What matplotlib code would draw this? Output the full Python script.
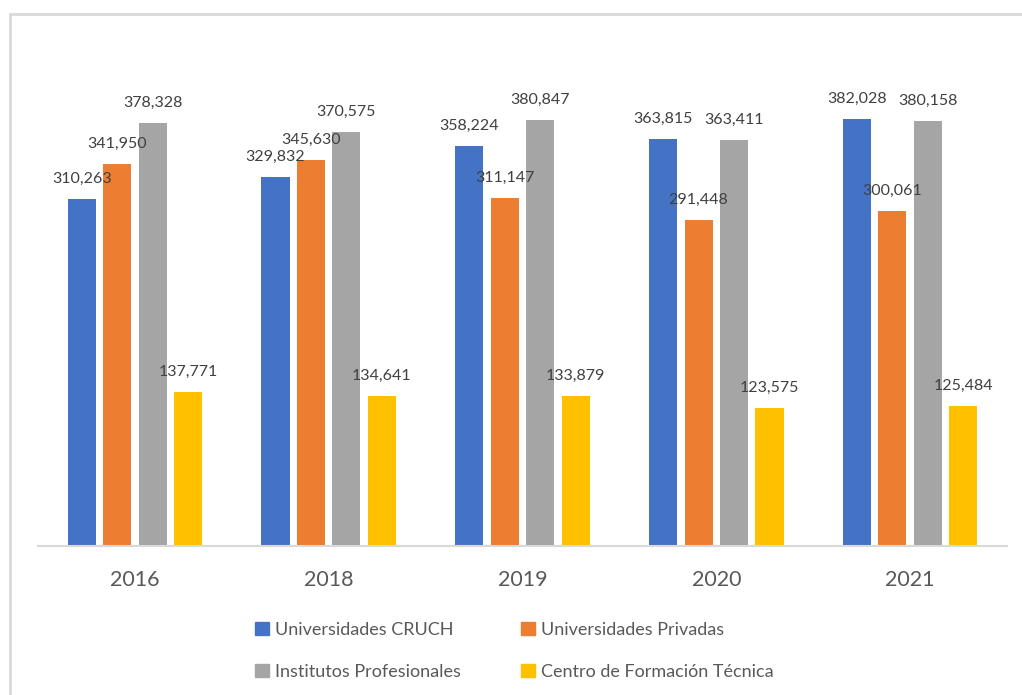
import matplotlib
matplotlib.use("Agg")
import matplotlib.pyplot as plt
from matplotlib.patches import Rectangle
import numpy as np

years = ["2016", "2018", "2019", "2020", "2021"]
series_names = ["Universidades CRUCH", "Universidades Privadas",
                "Institutos Profesionales", "Centro de Formación Técnica"]
cruch = [310263, 329832, 358224, 363815, 382028]
privadas = [341950, 345630, 311147, 291448, 300061]
institutos = [378328, 370575, 380847, 363411, 380158]
cft = [137771, 134641, 133879, 123575, 125484]

colors = ["#4472C4", "#ED7D31", "#A5A5A5", "#FFC000"]
all_series = [cruch, privadas, institutos, cft]

plt.rcParams['font.family'] = ['Lato', 'DejaVu Sans']

W, H = 1022, 695
fig = plt.figure(figsize=(W / 100, H / 100), dpi=100)
ax = fig.add_axes([38 / W, (H - 546) / H, (1007 - 38) / W, 503 / H])

x = np.arange(len(years))
step = 0.183
width = 0.1445
for i, (vals, name, c) in enumerate(zip(all_series, series_names, colors)):
    pos = x + (i - 1.5) * step
    ax.bar(pos, vals, width=width, color=c, label=name, zorder=2)
    for p, v in zip(pos, vals):
        ax.annotate(f"{v:,}", (p, v), xytext=(0, 20), textcoords="offset pixels",
                    ha="center", va="center", fontsize=11.5, color="#404040")

ax.set_xlim(-0.5, len(years) - 0.5)
ax.set_ylim(0, 450000)
ax.set_xticks(x)
ax.set_xticklabels(years, fontsize=15.5, color="#595959")
ax.tick_params(axis='x', length=0, pad=17)
ax.set_yticks([])
for s in ["top", "right", "left"]:
    ax.spines[s].set_visible(False)
ax.spines["bottom"].set_color("#D9D9D9")
ax.spines["bottom"].set_linewidth(1.5)
ax.set_facecolor("none")

# chart border (only top and left visible within the image)
fig.add_artist(Rectangle((9.5 / W, -0.05), 1.1, (H - 13.5) / H + 0.05,
                         transform=fig.transFigure, fill=False,
                         edgecolor="#D9D9D9", linewidth=2))

# legend laid out row-wise (matplotlib fills column-wise)
order = [0, 2, 1, 3]
handles = [Rectangle((0, 0), 1, 1, color=colors[k]) for k in order]
labels = [series_names[k] for k in order]
fig.legend(handles, labels, ncol=2, loc="center",
           bbox_to_anchor=(0.5035, 44 / H), frameon=False,
           fontsize=13, handlelength=0.75, handleheight=0.75,
           handletextpad=0.35, columnspacing=3.35, labelspacing=1.42,
           labelcolor="#595959")

fig.savefig("out.png", dpi=100)
